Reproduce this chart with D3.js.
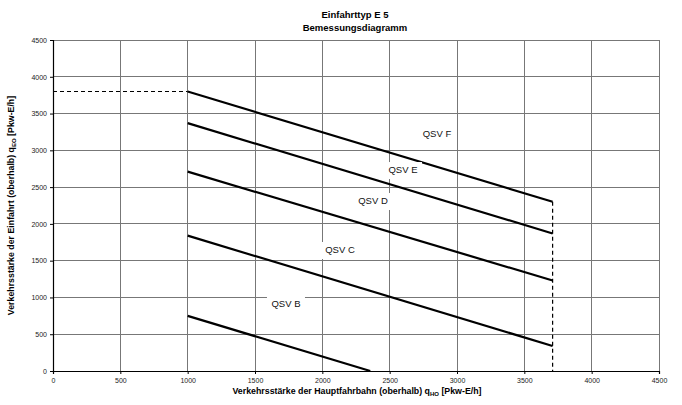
<!DOCTYPE html>
<html><head><meta charset="utf-8">
<script src="https://cdn.jsdelivr.net/npm/d3@7"></script>
<style>body{margin:0;background:#fff}svg{display:block;font-family:"Liberation Sans",Arial,sans-serif}</style>
</head><body><div id="chart"></div>
<script>
const seriesNames = ["QSV B","QSV C","QSV D","QSV E","QSV F"];
const seriesX = [[1000,2356],[1000,3710],[1000,3710],[1000,3710],[1000,3710]];
const seriesY = [[750,0],[1840,340],[2710,1230],[3370,1870],[3800,2300]];
const labelX = [1730,2131,2376,2599,2851];
const labelY = [911,1645,2311,2732,3222];
const dashH = {x:[0,1000], y:[3800,3800]};
const dashV = {x:[3710,3710], y:[2300,0]};
const xTicks = [0,500,1000,1500,2000,2500,3000,3500,4000,4500];
const yTicks = [0,500,1000,1500,2000,2500,3000,3500,4000,4500];

const W=682,H=405;
const m={l:53,r:23,t:40,b:34};
const svg=d3.select("#chart").append("svg").attr("width",W).attr("height",H);
const x=d3.scaleLinear().domain([0,4500]).range([m.l,W-m.r]);
const y=d3.scaleLinear().domain([0,4500]).range([H-m.b,m.t]);

// grid
svg.append("g").selectAll("line").data(xTicks.slice(1)).join("line")
 .attr("x1",d=>x(d)).attr("x2",d=>x(d)).attr("y1",y(0)).attr("y2",y(4500))
 .attr("stroke","#777").attr("stroke-width",1).attr("shape-rendering","crispEdges");
svg.append("g").selectAll("line").data(yTicks.slice(1)).join("line")
 .attr("x1",x(0)).attr("x2",x(4500)).attr("y1",d=>y(d)).attr("y2",d=>y(d))
 .attr("stroke","#777").attr("stroke-width",1).attr("shape-rendering","crispEdges");

// axes
const fmt=d3.format("d");
const xa=svg.append("g").attr("transform",`translate(0,${y(0)})`)
 .call(d3.axisBottom(x).tickValues(xTicks).tickFormat(fmt).tickSize(3).tickPadding(4));
const ya=svg.append("g").attr("transform",`translate(${x(0)},0)`)
 .call(d3.axisLeft(y).tickValues(yTicks).tickFormat(fmt).tickSize(3).tickPadding(3));
[xa,ya].forEach(a=>{a.selectAll("text").attr("font-size",7).attr("fill","#222").attr("font-family","Liberation Sans, Arial, sans-serif");
 a.selectAll("path,line").attr("stroke","#000");a.select(".domain").attr("stroke-width",1.2);});

// dashed lines
const line=d3.line().x(d=>x(d[0])).y(d=>y(d[1]));
[dashH,dashV].forEach(dd=>{
 svg.append("path").attr("d",line(dd.x.map((v,i)=>[v,dd.y[i]])))
  .attr("fill","none").attr("stroke","#000").attr("stroke-width",1.2).attr("stroke-dasharray","4,3");
});

// series
seriesNames.forEach((n,i)=>{
 svg.append("path").attr("d",line(seriesX[i].map((v,j)=>[v,seriesY[i][j]])))
  .attr("fill","none").attr("stroke","#000").attr("stroke-width",2.2);
});

// labels with white boxes
seriesNames.forEach((n,i)=>{
 const g=svg.append("g").attr("transform",`translate(${x(labelX[i])},${y(labelY[i])})`);
 g.append("rect").attr("x",-19).attr("y",-8).attr("width",38).attr("height",17).attr("fill","#fff");
 g.append("text").attr("text-anchor","middle").attr("dy","0.35em").attr("font-size",9.5).attr("fill","#111").text(n);
});

// titles
svg.append("text").attr("x",355).attr("y",18).attr("text-anchor","middle").attr("font-size",9.5).attr("font-weight","bold").text("Einfahrttyp E 5");
svg.append("text").attr("x",355).attr("y",31).attr("text-anchor","middle").attr("font-size",9.5).attr("font-weight","bold").text("Bemessungsdiagramm");

const xt=svg.append("text").attr("x",357).attr("y",394).attr("text-anchor","middle").attr("font-size",8.8).attr("font-weight","bold");
xt.append("tspan").text("Verkehrsstärke der Hauptfahrbahn (oberhalb) q");
xt.append("tspan").attr("font-size",6).attr("dy",2).text("HO");
xt.append("tspan").attr("dy",-2).text(" [Pkw-E/h]");

const yt=svg.append("text").attr("transform",`translate(14,${(y(0)+y(4500))/2}) rotate(-90)`).attr("text-anchor","middle").attr("font-size",8.8).attr("font-weight","bold");
yt.append("tspan").text("Verkehrsstärke der Einfahrt (oberhalb) q");
yt.append("tspan").attr("font-size",6).attr("dy",2).text("EO");
yt.append("tspan").attr("dy",-2).text(" [Pkw-E/h]");
</script></body></html>
